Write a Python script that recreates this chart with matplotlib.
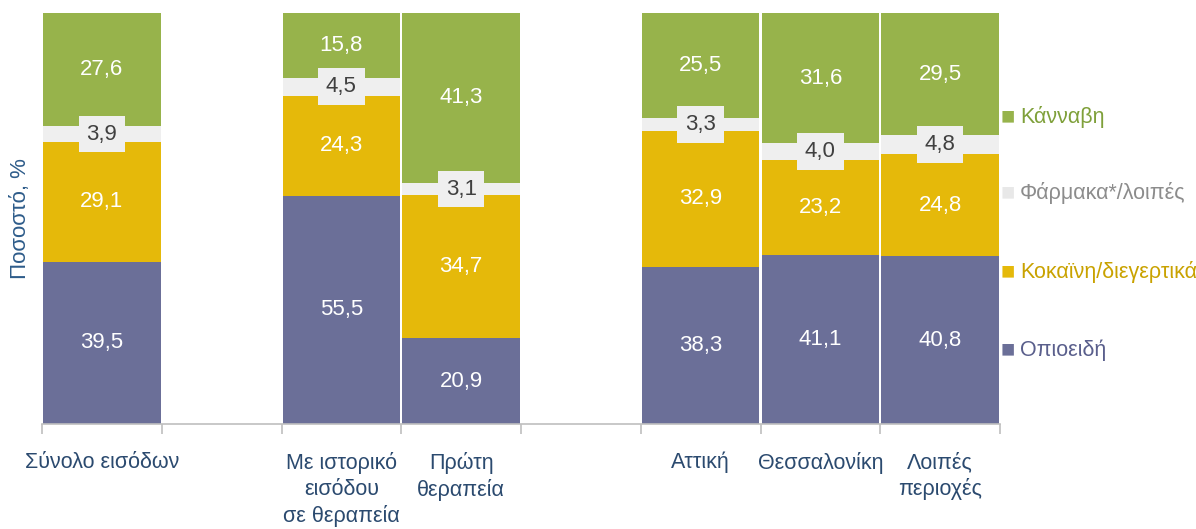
import matplotlib
matplotlib.use('Agg')

import matplotlib.pyplot as plt
import numpy as np

# Δεδομένα (ποσοστά %)
categories = ['Σύνολο εισόδων', '', 'Με ιστορικό\nεισόδου\nσε θεραπεία', 'Πρώτη\nθεραπεία',
              '', 'Αττική', 'Θεσσαλονίκη', 'Λοιπές\nπεριοχές']
series_names = ['Οπιοειδή', 'Κοκαϊνη/διεγερτικά', 'Φάρμακα*/λοιπές', 'Κάνναβη']
opioids = [39.5, None, 55.5, 20.9, None, 38.3, 41.1, 40.8]
cocaine = [29.1, None, 24.3, 34.7, None, 32.9, 23.2, 24.8]
other = [3.9, None, 4.5, 3.1, None, 3.3, 4.0, 4.8]
cannabis = [27.6, None, 15.8, 41.3, None, 25.5, 31.6, 29.5]

COLORS = ['#6B6F98', '#E5B90A', '#EFEFEF', '#97B34B']
LEGEND_TEXT = ['#5A5F8C', '#C9A200', '#8C8C8C', '#7FA03A']
AXIS_BLUE = '#2B4A6F'

plt.rcParams['font.family'] = ['Liberation Sans', 'DejaVu Sans']

fig = plt.figure(figsize=(11.96, 5.29), dpi=100)
ax = fig.add_axes([42 / 1196, 1 - 424 / 529, (1000 - 42) / 1196, (424 - 13) / 529])

x = np.arange(len(categories))
bottom = np.zeros(len(categories))
all_series = [opioids, cocaine, other, cannabis]

for i, vals in enumerate(all_series):
    idx = [k for k, v in enumerate(vals) if v is not None]
    v = np.array([vals[k] for k in idx])
    b = bottom[idx]
    ax.bar(x[idx], v, bottom=b, width=0.98, color=COLORS[i], linewidth=0)
    for k, val, bb in zip(idx, v, b):
        label = f'{val:.1f}'.replace('.', ',')
        if i == 2:
            ax.text(k, bb + val / 2, label, ha='center', va='center',
                    fontsize=16, color='#404040',
                    bbox=dict(boxstyle='square,pad=0.35', fc='#EFEFEF', ec='none'))
        else:
            ax.text(k, bb + val / 2, label, ha='center', va='center',
                    fontsize=16, color='white')
    bottom[idx] += v

ax.set_xlim(-0.5, len(categories) - 0.5)
ax.set_ylim(0, 100)

# Άξονες
for s in ['top', 'right', 'left']:
    ax.spines[s].set_visible(False)
ax.spines['bottom'].set_color('#BFBFBF')
ax.spines['bottom'].set_linewidth(1.2)
ax.set_yticks([])

ax.set_xticks(np.arange(len(categories) + 1) - 0.5)
ax.set_xticklabels([])
ax.tick_params(axis='x', which='major', length=7, color='#BFBFBF', width=1.2)
ax.set_xticks(x, minor=True)
ax.set_xticklabels(categories, minor=True, fontsize=15.5, color=AXIS_BLUE,
                   linespacing=1.3)
ax.tick_params(axis='x', which='minor', length=0, pad=20)

ax.set_ylabel('Ποσοστό, %', fontsize=16, color='#2E5C8A', labelpad=8)

# Υπόμνημα
legend_y = [117, 193, 272, 350]
for i in range(3, -1, -1):
    y = 1 - legend_y[3 - i] / 529
    fig.text(1001 / 1196, y, '■', fontsize=17, color=COLORS[i] if i != 2 else '#E8E8E8',
             va='center', ha='left')
    fig.text(1020 / 1196, y, series_names[i], fontsize=15.5, color=LEGEND_TEXT[i],
             va='center', ha='left')

fig.savefig('out.png', dpi=100)
plt.close(fig)
